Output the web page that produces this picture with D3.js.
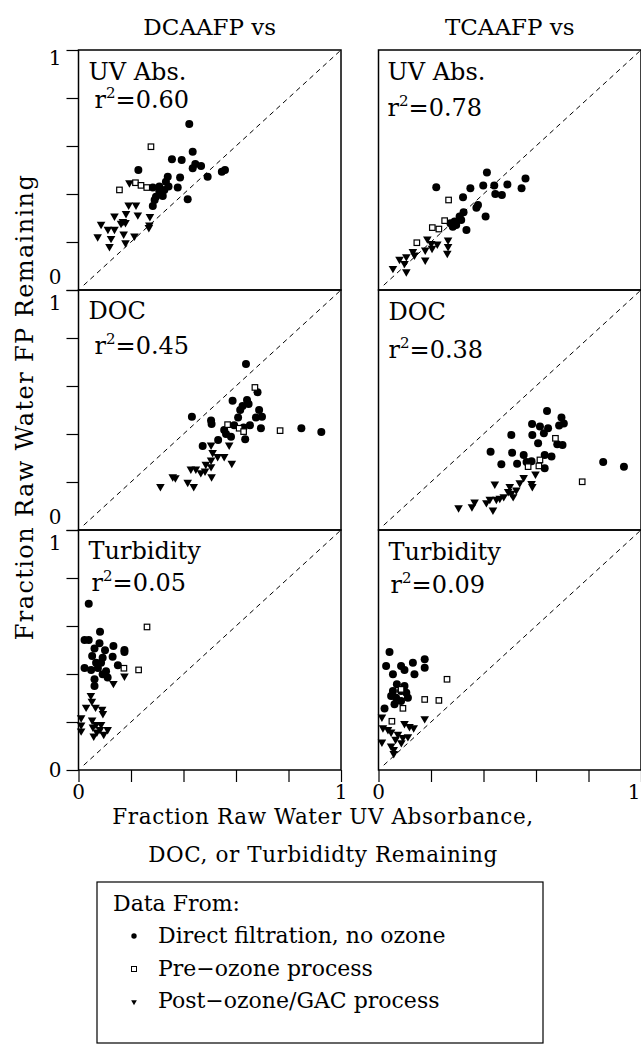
<!DOCTYPE html>
<html>
<head>
<meta charset="utf-8">
<script src="https://cdn.jsdelivr.net/npm/d3@7"></script>
<style>
  html, body { margin: 0; padding: 0; background: #fff; }
  svg { display: block; }
  text { font-family: "DejaVu Serif", "Liberation Serif", serif; fill: #000; }
</style>
</head>
<body>
<svg id="chart" width="641" height="1056"></svg>
<script>
// Column headings and row labels
const columnTitles = ["DCAAFP vs", "TCAAFP vs"];
const rowLabels = ["UV Abs.", "DOC", "Turbidity"];
const r2Dcaa = ["0.60", "0.45", "0.05"];
const r2Tcaa = ["0.78", "0.38", "0.09"];
const axisTicks = [0, 0.2, 0.4, 0.6, 0.8, 1];
const legendTitle = "Data From:";
const legendItems = ["Direct filtration, no ozone", "Pre\u2212ozone process", "Post\u2212ozone/GAC process"];

// Fraction remaining: [surrogate, FP] pairs
// DCAAFP vs UV absorbance
const dcaaUvDirect = [[0.422,0.692],[0.435,0.576],[0.356,0.545],[0.393,0.542],[0.228,0.500],[0.445,0.525],[0.467,0.517],[0.435,0.507],[0.492,0.472],[0.546,0.493],[0.558,0.500],[0.340,0.472],[0.387,0.469],[0.333,0.451],[0.343,0.431],[0.378,0.427],[0.283,0.427],[0.308,0.410],[0.295,0.389],[0.321,0.392],[0.290,0.375],[0.283,0.350],[0.416,0.378],[0.308,0.431],[0.327,0.417]];
const dcaaUvPre = [[0.276,0.597],[0.156,0.417],[0.217,0.447],[0.238,0.436],[0.260,0.427]];
const dcaaUvPost = [[0.194,0.447],[0.191,0.354],[0.219,0.354],[0.137,0.308],[0.181,0.319],[0.226,0.313],[0.272,0.306],[0.169,0.285],[0.179,0.281],[0.086,0.274],[0.112,0.253],[0.137,0.253],[0.270,0.271],[0.268,0.260],[0.073,0.222],[0.124,0.215],[0.172,0.233],[0.213,0.225],[0.118,0.181],[0.179,0.197],[0.162,0.278]];

// TCAAFP vs UV absorbance
const tcaaUvDirect = [[0.413,0.490],[0.220,0.428],[0.350,0.424],[0.399,0.435],[0.441,0.435],[0.491,0.440],[0.560,0.465],[0.545,0.424],[0.445,0.400],[0.470,0.396],[0.322,0.386],[0.379,0.354],[0.373,0.343],[0.408,0.306],[0.324,0.324],[0.309,0.306],[0.290,0.285],[0.274,0.278],[0.335,0.250],[0.296,0.271],[0.315,0.292],[0.283,0.264]];
const tcaaUvPre = [[0.267,0.375],[0.252,0.289],[0.205,0.260],[0.230,0.254],[0.146,0.197]];
const tcaaUvPost = [[0.186,0.213],[0.224,0.192],[0.265,0.208],[0.265,0.181],[0.262,0.153],[0.204,0.174],[0.178,0.167],[0.178,0.125],[0.131,0.160],[0.106,0.139],[0.080,0.128],[0.055,0.090],[0.106,0.076],[0.099,0.111],[0.137,0.146],[0.201,0.194]];

// DCAAFP vs DOC
const dcaaDocDirect = [[0.638,0.692],[0.682,0.574],[0.642,0.542],[0.587,0.539],[0.625,0.517],[0.616,0.500],[0.648,0.525],[0.688,0.500],[0.432,0.472],[0.505,0.456],[0.507,0.442],[0.608,0.469],[0.676,0.469],[0.699,0.472],[0.593,0.436],[0.629,0.427],[0.653,0.436],[0.695,0.424],[0.555,0.417],[0.562,0.400],[0.581,0.389],[0.635,0.378],[0.532,0.375],[0.473,0.350],[0.849,0.424],[0.925,0.408]];
const dcaaDocPre = [[0.672,0.594],[0.568,0.439],[0.612,0.424],[0.629,0.410],[0.768,0.414]];
const dcaaDocPost = [[0.505,0.354],[0.574,0.354],[0.511,0.323],[0.530,0.306],[0.555,0.306],[0.584,0.278],[0.505,0.292],[0.485,0.274],[0.505,0.264],[0.428,0.254],[0.447,0.254],[0.466,0.239],[0.482,0.246],[0.507,0.222],[0.369,0.218],[0.359,0.222],[0.416,0.199],[0.439,0.181],[0.312,0.181]];

// TCAAFP vs DOC
const tcaaDocDirect = [[0.642,0.496],[0.697,0.469],[0.706,0.444],[0.688,0.435],[0.585,0.442],[0.615,0.431],[0.646,0.424],[0.630,0.403],[0.506,0.396],[0.586,0.396],[0.608,0.361],[0.681,0.357],[0.701,0.354],[0.427,0.326],[0.509,0.322],[0.553,0.313],[0.633,0.313],[0.659,0.306],[0.528,0.276],[0.564,0.283],[0.583,0.286],[0.468,0.274],[0.633,0.257],[0.856,0.283],[0.935,0.264]];
const tcaaDocPre = [[0.674,0.382],[0.615,0.292],[0.570,0.264],[0.611,0.267],[0.776,0.201]];
const tcaaDocPost = [[0.598,0.233],[0.553,0.219],[0.538,0.197],[0.583,0.194],[0.586,0.181],[0.443,0.192],[0.500,0.181],[0.525,0.167],[0.506,0.153],[0.513,0.139],[0.477,0.139],[0.449,0.128],[0.424,0.128],[0.411,0.114],[0.436,0.083],[0.366,0.117],[0.356,0.097],[0.305,0.093],[0.462,0.132],[0.494,0.160]];

// DCAAFP vs turbidity
const dcaaTurbDirect = [[0.039,0.693],[0.082,0.576],[0.023,0.542],[0.039,0.542],[0.080,0.528],[0.133,0.517],[0.061,0.506],[0.101,0.499],[0.175,0.500],[0.175,0.492],[0.052,0.475],[0.092,0.468],[0.130,0.472],[0.067,0.447],[0.150,0.436],[0.023,0.425],[0.048,0.417],[0.074,0.425],[0.105,0.411],[0.092,0.399],[0.061,0.378],[0.111,0.385],[0.061,0.350],[0.086,0.447]];
const dcaaTurbPre = [[0.261,0.596],[0.173,0.424],[0.229,0.417]];
const dcaaTurbPost = [[0.175,0.392],[0.133,0.361],[0.047,0.311],[0.051,0.287],[0.029,0.262],[0.065,0.262],[0.090,0.253],[0.093,0.235],[0.010,0.218],[0.010,0.188],[0.010,0.163],[0.052,0.208],[0.055,0.179],[0.067,0.190],[0.086,0.190],[0.111,0.169],[0.058,0.142],[0.070,0.158],[0.096,0.149],[0.082,0.169]];

// TCAAFP vs turbidity
const tcaaTurbDirect = [[0.042,0.492],[0.176,0.461],[0.131,0.447],[0.086,0.433],[0.029,0.433],[0.099,0.417],[0.176,0.426],[0.137,0.399],[0.055,0.399],[0.070,0.357],[0.099,0.350],[0.055,0.329],[0.086,0.329],[0.112,0.301],[0.067,0.301],[0.086,0.288],[0.048,0.308],[0.023,0.256],[0.061,0.274],[0.106,0.322]];
const tcaaTurbPre = [[0.261,0.378],[0.176,0.294],[0.230,0.290],[0.093,0.257],[0.086,0.336],[0.051,0.203]];
const tcaaTurbPost = [[0.013,0.221],[0.176,0.214],[0.099,0.194],[0.118,0.181],[0.134,0.176],[0.017,0.176],[0.048,0.158],[0.036,0.169],[0.074,0.149],[0.093,0.135],[0.065,0.128],[0.087,0.114],[0.013,0.117],[0.058,0.086],[0.058,0.069],[0.048,0.100],[0.112,0.139]];

// Panel grid: rows = surrogate, cols = FP species
const panels = [
  {row: 0, col: 0, r2: r2Dcaa[0], direct: dcaaUvDirect,   pre: dcaaUvPre,   post: dcaaUvPost},
  {row: 0, col: 1, r2: r2Tcaa[0], direct: tcaaUvDirect,   pre: tcaaUvPre,   post: tcaaUvPost},
  {row: 1, col: 0, r2: r2Dcaa[1], direct: dcaaDocDirect,  pre: dcaaDocPre,  post: dcaaDocPost},
  {row: 1, col: 1, r2: r2Tcaa[1], direct: tcaaDocDirect,  pre: tcaaDocPre,  post: tcaaDocPost},
  {row: 2, col: 0, r2: r2Dcaa[2], direct: dcaaTurbDirect, pre: dcaaTurbPre, post: dcaaTurbPost},
  {row: 2, col: 1, r2: r2Tcaa[2], direct: tcaaTurbDirect, pre: tcaaTurbPre, post: tcaaTurbPost}
];

// Geometry
const colX = [78.5, 378.5];
const rowY = [50, 290, 530];
const panelW = 262.5;
const panelH = 240;
// label offsets inside each panel [name, r²] as [dx, baseline]
const labelPos = [
  [[10, 30], [16, 58]], [[9, 30], [9, 66]],
  [[10, 29], [16, 64]], [[10, 30], [10, 68]],
  [[10, 29], [13, 61]], [[10, 30], [12, 63]]
];

const svg = d3.select("#chart");
const x = d3.scaleLinear().domain([0, 1]).range([0, panelW]);
const y = d3.scaleLinear().domain([0, 1]).range([panelH, 0]);

const labelFont = 24;

// Column titles
svg.selectAll("text.coltitle").data(columnTitles).join("text")
  .attr("class", "coltitle")
  .attr("x", (d, i) => colX[i] + panelW / 2)
  .attr("y", 35)
  .attr("text-anchor", "middle")
  .attr("font-size", 23)
  .text(d => d);

const tri = d3.symbol().type(d3.symbolTriangle).size(32);

panels.forEach((p, idx) => {
  const g = svg.append("g").attr("transform", `translate(${colX[p.col]},${rowY[p.row]})`);

  // Frame
  g.append("rect").attr("x", 0).attr("y", 0).attr("width", panelW).attr("height", panelH)
    .attr("fill", "none").attr("stroke", "#000").attr("stroke-width", 1.5);

  // 1:1 line
  g.append("line")
    .attr("x1", x(0.02)).attr("y1", y(0.02)).attr("x2", x(0.995)).attr("y2", y(0.995))
    .attr("stroke", "#000").attr("stroke-width", 1).attr("stroke-dasharray", "5,4");

  // Left ticks on the first column
  if (p.col === 0) {
    const ax = g.append("g").call(d3.axisLeft(y).tickValues(axisTicks).tickSize(12).tickFormat(""));
    ax.select(".domain").remove();
    ax.selectAll("line").attr("stroke-width", 1.2);
    const lab = g.append("g").attr("font-size", 20).attr("text-anchor", "end");
    lab.append("text").attr("x", -17).attr("y", y(1) + (p.row === 0 ? 15 : 20)).text("1");
    lab.append("text").attr("x", -17).attr("y", y(0) + (p.row === 2 ? 7 : -6)).text("0");
  }

  // Bottom ticks on the last row
  if (p.row === 2) {
    const ax = g.append("g").attr("transform", `translate(0,${panelH})`)
      .call(d3.axisBottom(x).tickValues(axisTicks).tickSize(12).tickFormat(""));
    ax.select(".domain").remove();
    ax.selectAll("line").attr("stroke-width", 1.2);
    // the right column's "1" sits against the page edge, so it is right-aligned there
    const edge = p.col === 1;
    g.append("g").attr("font-size", 20)
      .selectAll("text").data([0, 1]).join("text")
      .attr("text-anchor", d => (edge && d === 1) ? "end" : "middle")
      .attr("x", d => (edge && d === 1) ? x(d) - 0.5 : x(d))
      .attr("y", panelH + 29).text(d => d);
  }

  // Row label and r²
  const lp = labelPos[idx];
  g.append("text").attr("x", lp[0][0]).attr("y", lp[0][1]).attr("font-size", labelFont).text(rowLabels[p.row]);
  const rt = g.append("text").attr("x", lp[1][0]).attr("y", lp[1][1]).attr("font-size", labelFont);
  rt.append("tspan").text("r");
  rt.append("tspan").attr("font-size", 15).attr("dy", -10).text("2");
  rt.append("tspan").attr("dy", 10).text("=" + p.r2);

  // Post-ozone/GAC: filled down triangles
  g.append("g").selectAll("path").data(p.post).join("path")
    .attr("d", tri)
    .attr("transform", d => `translate(${x(d[0])},${y(d[1])}) rotate(180)`)
    .attr("fill", "#000");

  // Direct filtration: filled circles
  g.append("g").selectAll("circle").data(p.direct).join("circle")
    .attr("cx", d => x(d[0])).attr("cy", d => y(d[1])).attr("r", 4)
    .attr("fill", "#000");

  // Pre-ozone: open squares
  g.append("g").selectAll("rect").data(p.pre).join("rect")
    .attr("x", d => x(d[0]) - 2.75).attr("y", d => y(d[1]) - 2.75)
    .attr("width", 5.5).attr("height", 5.5)
    .attr("fill", "#fff").attr("stroke", "#000").attr("stroke-width", 1.2);
});

// Axis titles
svg.append("text")
  .attr("transform", `translate(33,407) rotate(-90)`)
  .attr("text-anchor", "middle").attr("font-size", 24).attr("letter-spacing", 1.4)
  .text("Fraction Raw Water FP Remaining");

svg.append("text").attr("x", 323).attr("y", 824).attr("text-anchor", "middle")
  .attr("font-size", 21.5).attr("letter-spacing", 0.6)
  .text("Fraction Raw Water UV Absorbance,");
svg.append("text").attr("x", 323).attr("y", 862).attr("text-anchor", "middle")
  .attr("font-size", 21.5).attr("letter-spacing", 0.6)
  .text("DOC, or Turbididty Remaining");

// Legend
const lg = svg.append("g");
lg.append("rect").attr("x", 97).attr("y", 882).attr("width", 446).attr("height", 161)
  .attr("fill", "none").attr("stroke", "#000").attr("stroke-width", 1.2);
lg.append("text").attr("x", 113).attr("y", 911).attr("font-size", 22).text(legendTitle);
const rowsY = [943, 976, 1008];
lg.selectAll("text.item").data(legendItems).join("text")
  .attr("class", "item")
  .attr("x", 158).attr("y", (d, i) => rowsY[i]).attr("font-size", 22).text(d => d);
lg.append("circle").attr("cx", 134).attr("cy", rowsY[0] - 7).attr("r", 2.7).attr("fill", "#000");
lg.append("rect").attr("x", 131.5).attr("y", rowsY[1] - 9.5).attr("width", 5).attr("height", 5)
  .attr("fill", "#fff").attr("stroke", "#000").attr("stroke-width", 1);
lg.append("path").attr("d", d3.symbol().type(d3.symbolTriangle).size(14))
  .attr("transform", `translate(134,${rowsY[2] - 6}) rotate(180)`).attr("fill", "#000");
</script>
</body>
</html>
